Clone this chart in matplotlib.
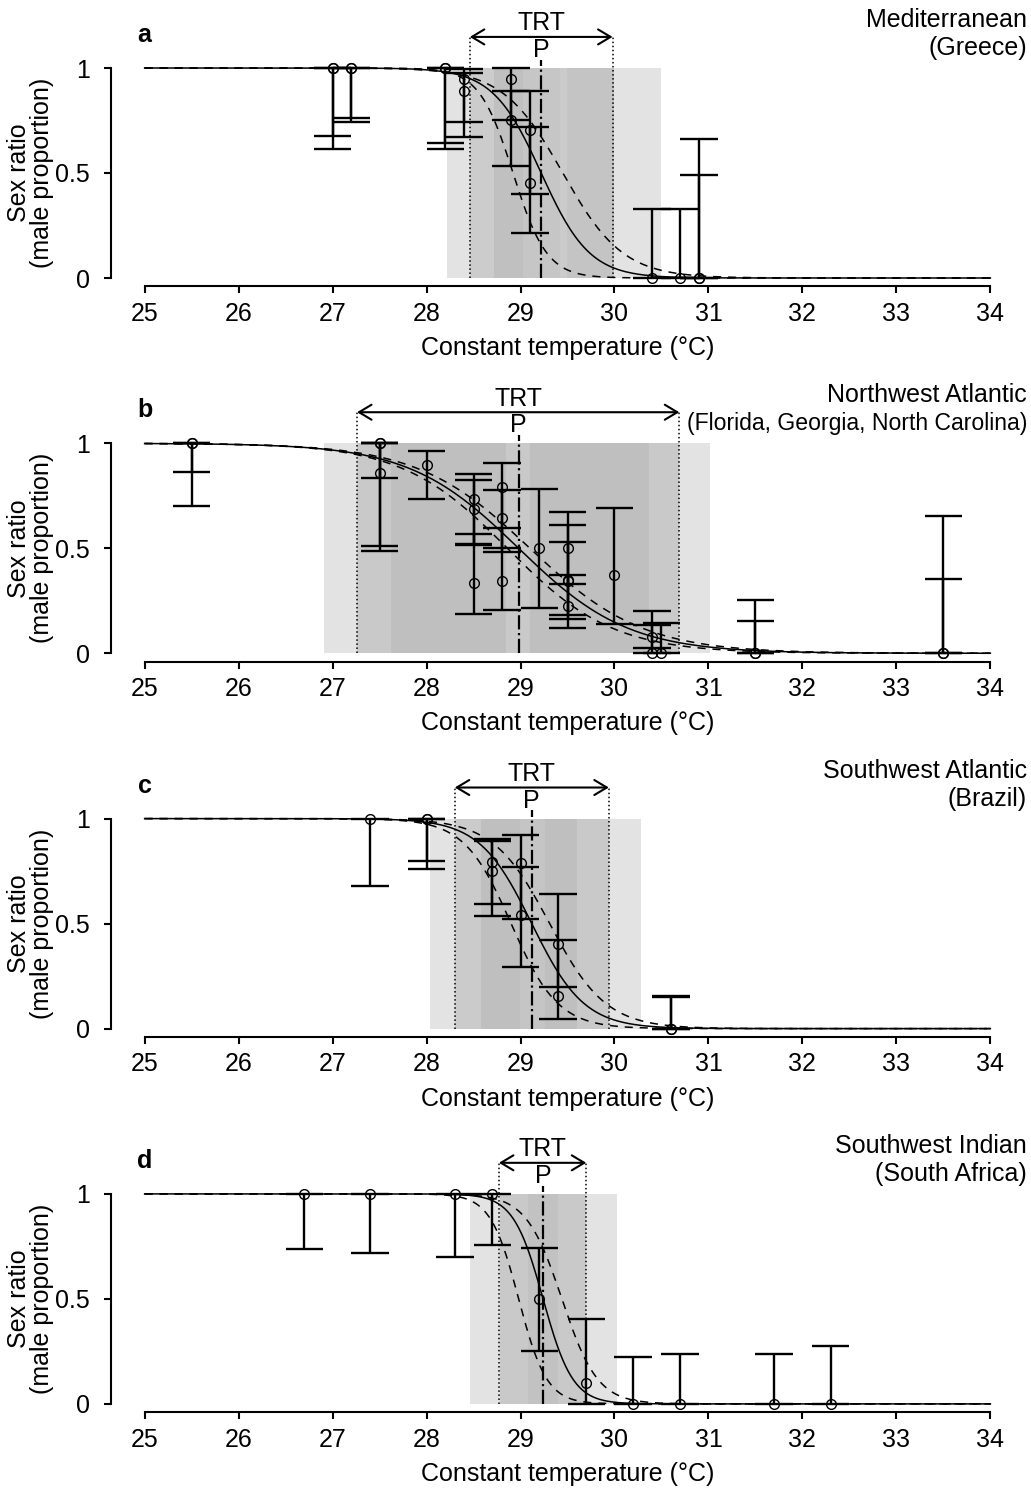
import numpy as np
import matplotlib.pyplot as plt

plt.rcParams['font.family'] = ['Liberation Sans', 'DejaVu Sans']
plt.rcParams['font.size'] = 18

# ---- values ----
# a: Mediterranean (Greece)
a_temp = [27.0, 27.0, 27.2, 27.2, 28.2, 28.2, 28.4, 28.4, 28.9, 28.9, 29.1, 29.1, 30.4, 30.7, 30.9, 30.9]
a_sr = [1, 1, 1, 1, 1, 1, 0.946, 0.892, 0.946, 0.752, 0.705, 0.454, 0, 0, 0, 0]
a_lo = [0.676, 0.613, 0.76, 0.745, 0.644, 0.613, 0.744, 0.673, 0.752, 0.533, 0.398, 0.216, 0, 0, 0, 0]
a_hi = [1, 1, 1, 1, 1, 1, 0.995, 0.975, 1.0, 0.892, 0.892, 0.72, 0.327, 0.327, 0.66, 0.49]
a_P = 29.22
a_trt = [28.46, 29.98]
a_ci_curves = [(28.92, 0.18), (29.45, 0.32)]   # (pivotal, scale) of dashed envelopes
a_band_edges = [28.22, 28.46, 28.72, 29.03, 29.42, 29.49, 29.99, 30.50]
a_band_greys = ['#e3e3e3', '#cccccc', '#c0c0c0', '#c6c6c6', '#cbcbcb', '#c4c4c4', '#e3e3e3']

# b: Northwest Atlantic
b_temp = [25.5, 25.5, 27.5, 27.5, 27.5, 28.0, 28.5, 28.5, 28.5, 28.8, 28.8, 28.8, 29.2,
          29.5, 29.5, 29.5, 29.5, 30.0, 30.4, 30.4, 30.5, 31.5, 31.5, 33.5, 33.5]
b_sr = [1, 1, 1, 0.859, 1, 0.895, 0.735, 0.686, 0.333, 0.792, 0.646, 0.343, 0.502,
        0.502, 0.351, 0.345, 0.224, 0.375, 0.078, 0, 0, 0, 0, 0, 0]
b_lo = [0.863, 0.70, 0.837, 0.511, 0.487, 0.735, 0.515, 0.52, 0.189, 0.481, 0.5, 0.208, 0.214,
        0.33, 0.181, 0.165, 0.122, 0.138, 0.025, 0, 0, 0, 0, 0, 0]
b_hi = [1, 1, 1, 1.0, 1, 0.963, 0.852, 0.824, 0.57, 0.906, 0.779, 0.595, 0.781,
        0.671, 0.53, 0.611, 0.375, 0.694, 0.20, 0.133, 0.144, 0.256, 0.154, 0.654, 0.352]
b_P = 28.98
b_trt = [27.26, 30.69]
b_ci_curves = [(28.86, 0.56), (29.10, 0.60)]
b_band_edges = [26.91, 27.26, 27.62, 28.85, 29.10, 30.37, 30.69, 31.02]
b_band_greys = ['#e3e3e3', '#c9c9c9', '#bfbfbf', '#c9c9c9', '#bfbfbf', '#c9c9c9', '#e3e3e3']

# c: Southwest Atlantic (Brazil)
c_temp = [27.4, 28.0, 28.0, 28.7, 28.7, 29.0, 29.0, 29.4, 29.4, 30.6, 30.6]
c_sr = [1, 1, 1, 0.792, 0.749, 0.789, 0.54, 0.403, 0.157, 0, 0]
c_lo = [0.678, 0.797, 0.76, 0.594, 0.535, 0.524, 0.294, 0.2, 0.046, 0, 0]
c_hi = [1, 1, 1, 0.903, 0.892, 0.924, 0.77, 0.643, 0.424, 0.151, 0.155]
c_P = 29.12
c_trt = [28.30, 29.94]
c_ci_curves = [(28.90, 0.25), (29.31, 0.30)]
c_band_edges = [28.04, 28.30, 28.58, 28.99, 29.26, 29.60, 29.94, 30.28]
c_band_greys = ['#e3e3e3', '#cbcbcb', '#bfbfbf', '#c5c5c5', '#bfbfbf', '#c9c9c9', '#e3e3e3']

# d: Southwest Indian (South Africa)
d_temp = [26.7, 27.4, 28.3, 28.7, 29.2, 29.7, 30.2, 30.7, 31.7, 32.3]
d_sr = [1, 1, 1, 1, 0.498, 0.098, 0, 0, 0, 0]
d_lo = [0.74, 0.72, 0.70, 0.756, 0.252, 0.0, 0, 0, 0, 0]
d_hi = [1, 1, 1, 1, 0.744, 0.403, 0.225, 0.24, 0.24, 0.276]
d_P = 29.24
d_trt = [28.77, 29.70]
d_ci_curves = [(28.98, 0.15), (29.44, 0.19)]
d_band_edges = [28.46, 28.78, 29.08, 29.40, 29.70, 30.03]
d_band_greys = ['#e3e3e3', '#c9c9c9', '#c2c2c2', '#c9c9c9', '#e3e3e3']

panels = [
    ('a', 'Mediterranean', '(Greece)', a_temp, a_sr, a_lo, a_hi, a_P, a_trt, a_ci_curves, a_band_edges, a_band_greys),
    ('b', 'Northwest Atlantic', '(Florida, Georgia, North Carolina)', b_temp, b_sr, b_lo, b_hi, b_P, b_trt, b_ci_curves, b_band_edges, b_band_greys),
    ('c', 'Southwest Atlantic', '(Brazil)', c_temp, c_sr, c_lo, c_hi, c_P, c_trt, c_ci_curves, c_band_edges, c_band_greys),
    ('d', 'Southwest Indian', '(South Africa)', d_temp, d_sr, d_lo, d_hi, d_P, d_trt, d_ci_curves, d_band_edges, d_band_greys),
]


def logistic(t, P, S):
    return 1.0 / (1.0 + np.exp((t - P) / S))


W, H = 1031, 1490
fig = plt.figure(figsize=(W / 100, H / 100), dpi=100)
tt = np.linspace(25, 34, 600)
cap = 0.2

for i, (letter, name, region, temp, sr, lo, hi, P, trt, ci_curves, edges, greys) in enumerate(panels):
    y0 = 278 + 375.3 * i
    ax = fig.add_axes([110.8 / W, 1 - (y0 + 8.4) / H, 913.4 / W, 226.8 / H])
    ax.set_xlim(24.64, 34.36)
    ax.set_ylim(-0.04, 1.04)

    # shaded bands
    for l, r, g in zip(edges[:-1], edges[1:], greys):
        ax.fill_between([l, r], 0, 1, color=g, lw=0, zorder=0)

    # TRT limits and pivotal temperature
    S = (trt[1] - trt[0]) / (2 * np.log(19))
    for x in trt:
        ax.plot([x, x], [0, 1.148], color='k', ls=':', lw=1.1, clip_on=False, zorder=2)
    ax.plot([P, P], [0, 1.04], color='k', ls='-.', lw=1.6, clip_on=False, zorder=2)
    ax.annotate('', xy=(trt[1], 1.148), xytext=(trt[0], 1.148),
                arrowprops=dict(arrowstyle='<->,head_length=0.5,head_width=0.3', lw=1.5,
                                color='k', shrinkA=0, shrinkB=0),
                annotation_clip=False)
    ax.text(sum(trt) / 2, 1.212, 'TRT', ha='center', va='center', clip_on=False)
    ax.text(P, 1.086, 'P', ha='center', va='center', clip_on=False)

    # fitted curve and its confidence envelope
    ax.plot(tt, logistic(tt, P, S), color='k', lw=1.1, zorder=3)
    for cp, cs in ci_curves:
        ax.plot(tt, logistic(tt, cp, cs), color='k', lw=1.1, dashes=(5.3, 4.5), zorder=3)

    # observations with confidence intervals
    temp = np.array(temp)
    ax.vlines(temp, lo, hi, colors='k', lw=1.7, zorder=4)
    ax.hlines(lo, temp - cap, temp + cap, colors='k', lw=1.7, zorder=4)
    ax.hlines(hi, temp - cap, temp + cap, colors='k', lw=1.7, zorder=4)
    ax.plot(temp, sr, 'o', mfc='none', mec='k', ms=7, mew=1.0, zorder=5, clip_on=False)

    # axes
    for s in ['top', 'right']:
        ax.spines[s].set_visible(False)
    ax.spines['left'].set_bounds(0, 1)
    ax.spines['bottom'].set_bounds(25, 34)
    ax.spines['left'].set_linewidth(1.5)
    ax.spines['bottom'].set_linewidth(1.5)
    ax.set_xticks(range(25, 35))
    ax.set_yticks([0, 0.5, 1])
    ax.set_yticklabels(['0', '0.5', '1'])
    ax.tick_params(axis='x', length=5, width=1.5, pad=6, labelsize=18)
    ax.tick_params(axis='y', length=5, width=1.5, pad=10, labelsize=18)

    ax.text(25, 1.157, letter, ha='center', va='center', fontweight='bold', clip_on=False)
    ax.text(34.39, 1.229, name, ha='right', va='center', clip_on=False)
    region_size = 16.6 if len(region) > 20 else 18
    ax.text(34.39, 1.093, region, ha='right', va='center', fontsize=region_size, clip_on=False)
    ax.text(29.5, -0.333, 'Constant temperature (°C)', ha='center', va='center', clip_on=False)
    ax.text(23.79, 0.5, 'Sex ratio\n(male proportion)', ha='center', va='center',
            rotation=90, linespacing=0.95, multialignment='center', clip_on=False)

fig.savefig('out.png', dpi=100)
